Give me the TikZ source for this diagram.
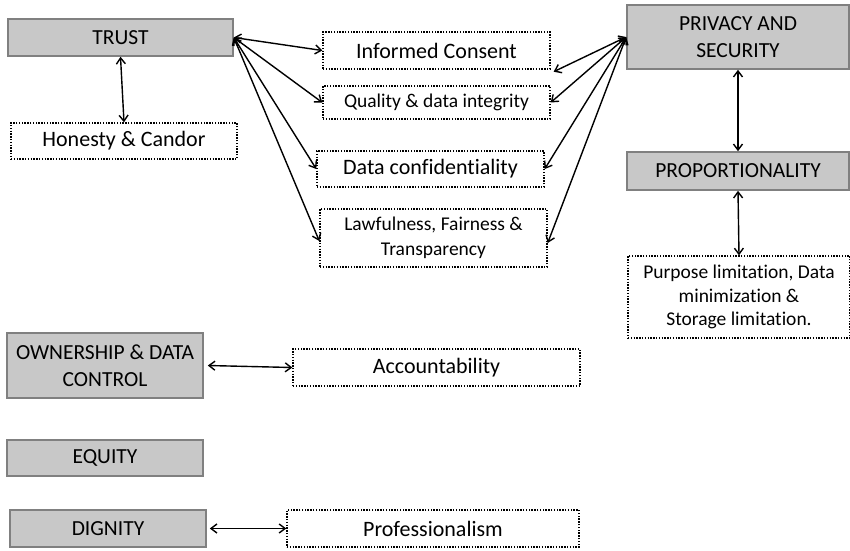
\documentclass[tikz,border=0pt]{standalone}
\usepackage{fontspec}
\setmainfont{Carlito}[Ligatures=NoCommon]
\usetikzlibrary{arrows.meta}
\definecolor{boxfill}{HTML}{C8C8C8}
\definecolor{boxline}{HTML}{808080}
\begin{document}
\begin{tikzpicture}[x=1pt,y=-1pt,
  mainbox/.style={draw=boxline, fill=boxfill, line width=1.6pt, inner sep=0pt, align=center, font=\fontsize{21.5}{27}\selectfont},
  subbox/.style={draw=black, line width=1.4pt, dash pattern=on 1.4pt off 1.4pt, inner sep=0pt, align=center, font=\fontsize{22}{26}\selectfont},
  link/.style={line width=1.4pt, {Straight Barb[length=6pt,width=9pt]}-{Straight Barb[length=6pt,width=9pt]}}]
\useasboundingbox (0,0) rectangle (850,550);
% main boxes
\node[mainbox, minimum width=225pt, minimum height=37pt] (trust) at (120.5,37.5) {TRUST};
\node[mainbox, minimum width=222pt, minimum height=64pt] (priv) at (738,37) {PRIVACY AND\\SECURITY};
\node[mainbox, minimum width=222pt, minimum height=38pt] (prop) at (738,171) {PROPORTIONALITY};
\node[mainbox, minimum width=196pt, minimum height=65pt] (own) at (105,365.5) {OWNERSHIP \& DATA\\CONTROL};
\node[mainbox, minimum width=196pt, minimum height=36pt] (equity) at (105,458) {EQUITY};
\node[mainbox, minimum width=196pt, minimum height=37pt] (dignity) at (108,528.5) {DIGNITY};
% sub boxes
\node[subbox, minimum width=226pt, minimum height=36pt] (honesty) at (124,141) {Honesty \& Candor};
\node[subbox, minimum width=227pt, minimum height=37pt] (consent) at (436.5,50.5) {Informed Consent};
\node[subbox, minimum width=227pt, minimum height=33pt, font=\fontsize{19.5}{22}\selectfont] (quality) at (436.5,102.5) {Quality \& data integrity};
\node[subbox, minimum width=227pt, minimum height=36pt] (conf) at (430.5,169) {Data confidentiality};
\node[subbox, minimum width=227pt, minimum height=58pt, font=\fontsize{19.5}{25}\selectfont] (lawful) at (433.5,238) {Lawfulness, Fairness \&\\Transparency};
\node[subbox, minimum width=222pt, minimum height=82pt, font=\fontsize{19.5}{23.5}\selectfont] (purpose) at (739,297) {Purpose limitation, Data\\minimization \&\\Storage limitation.};
\node[subbox, minimum width=287pt, minimum height=37pt] (account) at (436.5,367.5) {Accountability};
\node[subbox, minimum width=292pt, minimum height=37pt] (prof) at (433,528.5) {Professionalism};
% connectors
\draw[link] (trust.south) -- (honesty.north);
\draw[link] (trust.east) -- (consent.west);
\draw[link] (trust.east) -- (quality.west);
\draw[link] (trust.east) -- (conf.west);
\draw[link] (trust.east) -- ([yshift=-3pt]lawful.west);
\draw[link] (priv.west) -- ([xshift=3pt,yshift=-2pt]consent.south east);
\draw[link] (priv.west) -- (quality.east);
\draw[link] (priv.west) -- (conf.east);
\draw[link] (priv.west) -- ([yshift=-5pt]lawful.east);
\draw[link] (priv.south) -- (prop.north);
\draw[link] (prop.south) -- (purpose.north);
\draw[link] ([xshift=4pt]own.east) -- (account.west);
\draw[link] ([xshift=3pt]dignity.east) -- (prof.west);
\end{tikzpicture}
\end{document}
